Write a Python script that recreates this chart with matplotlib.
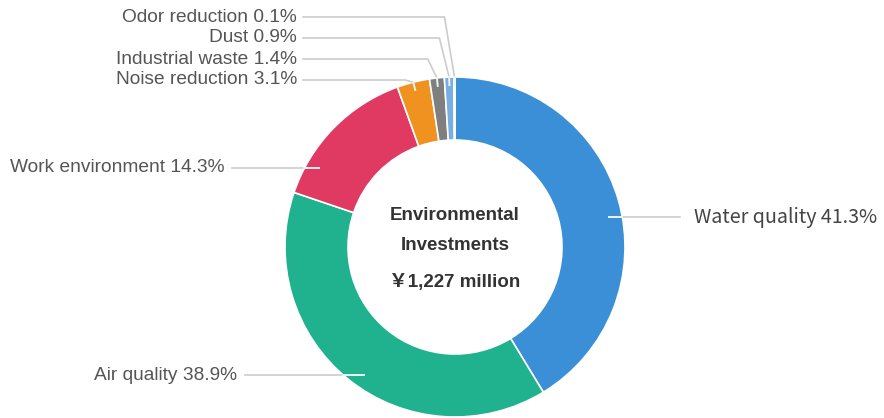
import numpy as np
import matplotlib.pyplot as plt

categories = ["Water quality", "Air quality", "Work environment", "Noise reduction",
              "Industrial waste", "Dust", "Odor reduction"]
shares = [41.3, 38.9, 14.3, 3.1, 1.4, 0.9, 0.1]
colors = ["#3a8fd6", "#20b18f", "#e03a63", "#f0921f", "#7f7f7f", "#79aee3", "#b9d3ef"]
center_lines = ["Environmental", "Investments", "\uffe51,227 million"]

W, H = 884, 418
CX, CY = 455, H - 247
R_OUT, R_IN = 170, 107

fig = plt.figure(figsize=(W / 100, H / 100), dpi=100)
ax = fig.add_axes([0, 0, 1, 1])

ax.pie(shares, colors=colors, startangle=90, counterclock=False,
       center=(CX, CY), radius=R_OUT, frame=True,
       wedgeprops=dict(width=R_OUT - R_IN, edgecolor="white", linewidth=1.2))
ax.set_xlim(0, W)
ax.set_ylim(0, H)
ax.set_aspect("equal")
ax.axis("off")

# angles of each wedge middle, clockwise from the top
ends = np.cumsum(shares) / 100 * 360
mids = ends - np.array(shares) / 100 * 360 / 2

line_col = "#cccccc"
inner_col = "#eef3f6"
label_font = ["Liberation Sans"]
label_col = "#555555"
fs = 13.8


def on_ring(deg, r):
    a = np.deg2rad(deg)
    return CX + r * np.sin(a), CY + r * np.cos(a)


def edge_x(y, side):
    dy = y - CY
    dx = np.sqrt(max(R_OUT ** 2 - dy ** 2, 0))
    return CX + side * dx


# big wedges: horizontal leader lines, lighter where they cross the ring
big = {
    0: (H - 217, 680, "left"),
    1: (H - 375, 245, "right"),
    2: (H - 168, 232, "right"),
}
for i, (y, x_end, ha) in big.items():
    side = 1 if ha == "left" else -1
    dy = y - CY
    x0 = CX + side * np.sqrt(max(157 ** 2 - dy ** 2, 0))
    xe = edge_x(y, side)
    ax.plot([xe, x_end], [y, y], color=line_col, lw=1.2, zorder=3)
    ax.plot([x0, xe], [y, y], color=inner_col, lw=1.4, zorder=3)
    tx = x_end + 14 if ha == "left" else x_end - 8
    txt = f"{categories[i]} {shares[i]}%"
    if i == 0:
        ax.text(tx, y, txt, ha=ha, va="center", fontsize=14.2,
                family=["Noto Sans CJK JP", "DejaVu Sans"], color="#444444")
    else:
        ax.text(tx, y, txt, ha=ha, va="center", fontsize=fs,
                family=label_font, color=label_col)

# small wedges at the top: elbow leader lines stacked on the left
small_y = {3: 80, 4: 59, 5: 38, 6: 17}
for i, ypx in small_y.items():
    y = H - ypx
    px, py = on_ring(mids[i], R_OUT - 8)
    ox, oy = on_ring(mids[i], R_OUT)
    elbow = px - 10
    ax.plot([303, elbow, ox], [y, y, oy], color=line_col, lw=1.2, zorder=3)
    ax.plot([ox, px], [oy, py], color=inner_col, lw=1.4, zorder=3)
    ax.text(297, y, f"{categories[i]} {shares[i]}%", ha="right", va="center",
            fontsize=fs, family=label_font, color=label_col)

for s, ypx in zip(center_lines, [215, 245, 282]):
    ax.text(CX, H - ypx, s, ha="center", va="center", fontsize=13.5,
            fontweight="bold", family=["Liberation Sans", "Noto Sans CJK JP"],
            color="#333333")

fig.savefig("out.png", dpi=100, facecolor="white")
